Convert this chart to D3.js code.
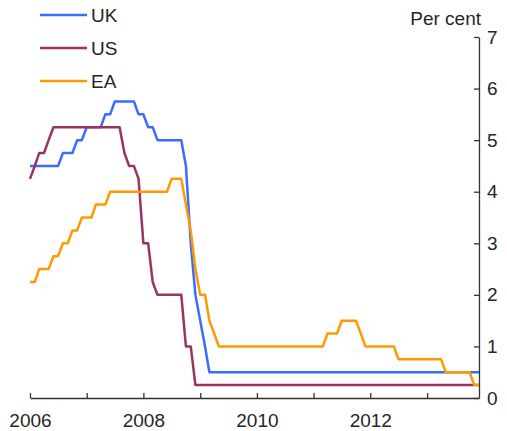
<!DOCTYPE html>
<html>
<head>
<meta charset="utf-8">
<script src="https://cdn.jsdelivr.net/npm/d3@7"></script>
<style>
  body { margin: 0; background: #fff; }
  svg text { font-family: "Liberation Sans", Arial, sans-serif; fill: #262626; }
</style>
</head>
<body>
<div id="chart"></div>
<script>
// monthly policy rates, Jan 2006 - Dec 2013 (per cent)
const seriesNames = ["UK", "US", "EA"];
const seriesColors = ["#3a6cff", "#993366", "#ff9900"];

const ukRate = [
  4.5, 4.5, 4.5, 4.5, 4.5, 4.5, 4.5, 4.75, 4.75, 4.75, 5, 5,          // 2006
  5.25, 5.25, 5.25, 5.25, 5.5, 5.5, 5.75, 5.75, 5.75, 5.75, 5.75, 5.5, // 2007
  5.5, 5.25, 5.25, 5, 5, 5, 5, 5, 5, 4.5, 3, 2,                        // 2008
  1.5, 1, 0.5, 0.5, 0.5, 0.5, 0.5, 0.5, 0.5, 0.5, 0.5, 0.5,            // 2009
  0.5, 0.5, 0.5, 0.5, 0.5, 0.5, 0.5, 0.5, 0.5, 0.5, 0.5, 0.5,          // 2010
  0.5, 0.5, 0.5, 0.5, 0.5, 0.5, 0.5, 0.5, 0.5, 0.5, 0.5, 0.5,          // 2011
  0.5, 0.5, 0.5, 0.5, 0.5, 0.5, 0.5, 0.5, 0.5, 0.5, 0.5, 0.5,          // 2012
  0.5, 0.5, 0.5, 0.5, 0.5, 0.5, 0.5, 0.5, 0.5, 0.5, 0.5, 0.5           // 2013
];

const usRate = [
  4.25, 4.5, 4.75, 4.75, 5, 5.25, 5.25, 5.25, 5.25, 5.25, 5.25, 5.25,  // 2006
  5.25, 5.25, 5.25, 5.25, 5.25, 5.25, 5.25, 5.25, 4.75, 4.5, 4.5, 4.25, // 2007
  3, 3, 2.25, 2, 2, 2, 2, 2, 2, 1, 1, 0.25,                            // 2008
  0.25, 0.25, 0.25, 0.25, 0.25, 0.25, 0.25, 0.25, 0.25, 0.25, 0.25, 0.25, // 2009
  0.25, 0.25, 0.25, 0.25, 0.25, 0.25, 0.25, 0.25, 0.25, 0.25, 0.25, 0.25, // 2010
  0.25, 0.25, 0.25, 0.25, 0.25, 0.25, 0.25, 0.25, 0.25, 0.25, 0.25, 0.25, // 2011
  0.25, 0.25, 0.25, 0.25, 0.25, 0.25, 0.25, 0.25, 0.25, 0.25, 0.25, 0.25, // 2012
  0.25, 0.25, 0.25, 0.25, 0.25, 0.25, 0.25, 0.25, 0.25, 0.25, 0.25, 0.25  // 2013
];

const eaRate = [
  2.25, 2.25, 2.5, 2.5, 2.5, 2.75, 2.75, 3, 3, 3.25, 3.25, 3.5,        // 2006
  3.5, 3.5, 3.75, 3.75, 3.75, 4, 4, 4, 4, 4, 4, 4,                     // 2007
  4, 4, 4, 4, 4, 4, 4.25, 4.25, 4.25, 3.75, 3.25, 2.5,                 // 2008
  2, 2, 1.5, 1.25, 1, 1, 1, 1, 1, 1, 1, 1,                             // 2009
  1, 1, 1, 1, 1, 1, 1, 1, 1, 1, 1, 1,                                  // 2010
  1, 1, 1, 1.25, 1.25, 1.25, 1.5, 1.5, 1.5, 1.5, 1.25, 1,              // 2011
  1, 1, 1, 1, 1, 1, 0.75, 0.75, 0.75, 0.75, 0.75, 0.75,                // 2012
  0.75, 0.75, 0.75, 0.75, 0.5, 0.5, 0.5, 0.5, 0.5, 0.5, 0.25, 0.25     // 2013
];

const yearLabels = [2006, 2008, 2010, 2012];
const yTicks = [0, 1, 2, 3, 4, 5, 6, 7];

const w = 507;
const h = 431;
const padLeft = 30, padRight = 479, padTop = 37, padBottom = 398;

const svg = d3.select("#chart")
              .append("svg")
              .attr("width", w)
              .attr("height", h);

const months = ukRate.map((d, i) => new Date(2006, i, 1));

const xScale = d3.scaleTime()
                 .domain([months[0], months[months.length - 1]])
                 .range([padLeft, padRight]);

const yScale = d3.scaleLinear()
                 .domain([0, 7])
                 .range([padBottom, padTop]);

const xAxis = d3.axisBottom(xScale)
                .ticks(d3.timeYear.every(1))
                .tickSizeInner(-5)
                .tickSizeOuter(0)
                .tickPadding(16)
                .tickFormat(d => yearLabels.includes(d.getFullYear()) ? d.getFullYear() : "");

const yAxis = d3.axisRight(yScale)
                .tickValues(yTicks)
                .tickFormat(d3.format("d"))
                .tickSizeInner(-5)
                .tickSizeOuter(0)
                .tickPadding(8);

const gx = svg.append("g")
   .attr("transform", `translate(0, ${padBottom})`)
   .call(xAxis);

const gy = svg.append("g")
   .attr("transform", `translate(${padRight}, 0)`)
   .call(yAxis);

[gx, gy].forEach(g => {
  g.selectAll("path, line").attr("stroke", "#333").attr("stroke-width", 1.3);
  g.selectAll("text").style("font-size", "19px").attr("fill", "#262626");
});

svg.append("text")
   .attr("x", 481)
   .attr("y", 25)
   .attr("text-anchor", "end")
   .style("font-size", "19px")
   .text("Per cent");

const line = d3.line()
               .x((d, i) => xScale(months[i]))
               .y(d => yScale(d));

const allSeries = [ukRate, usRate, eaRate];

svg.selectAll(".series")
   .data(allSeries)
   .enter()
   .append("path")
   .attr("class", "series")
   .attr("fill", "none")
   .attr("stroke", (d, i) => seriesColors[i])
   .attr("stroke-width", 2.5)
   .attr("stroke-linejoin", "round")
   .attr("d", line);

// legend
const legend = svg.append("g");
seriesNames.forEach((name, i) => {
  const y = 15 + i * 33;
  legend.append("line")
        .attr("x1", 40).attr("x2", 87)
        .attr("y1", y).attr("y2", y)
        .attr("stroke", seriesColors[i])
        .attr("stroke-width", 2.5);
  legend.append("text")
        .attr("x", 91)
        .attr("y", y)
        .attr("dy", "0.36em")
        .style("font-size", "19px")
        .text(name);
});
</script>
</body>
</html>
